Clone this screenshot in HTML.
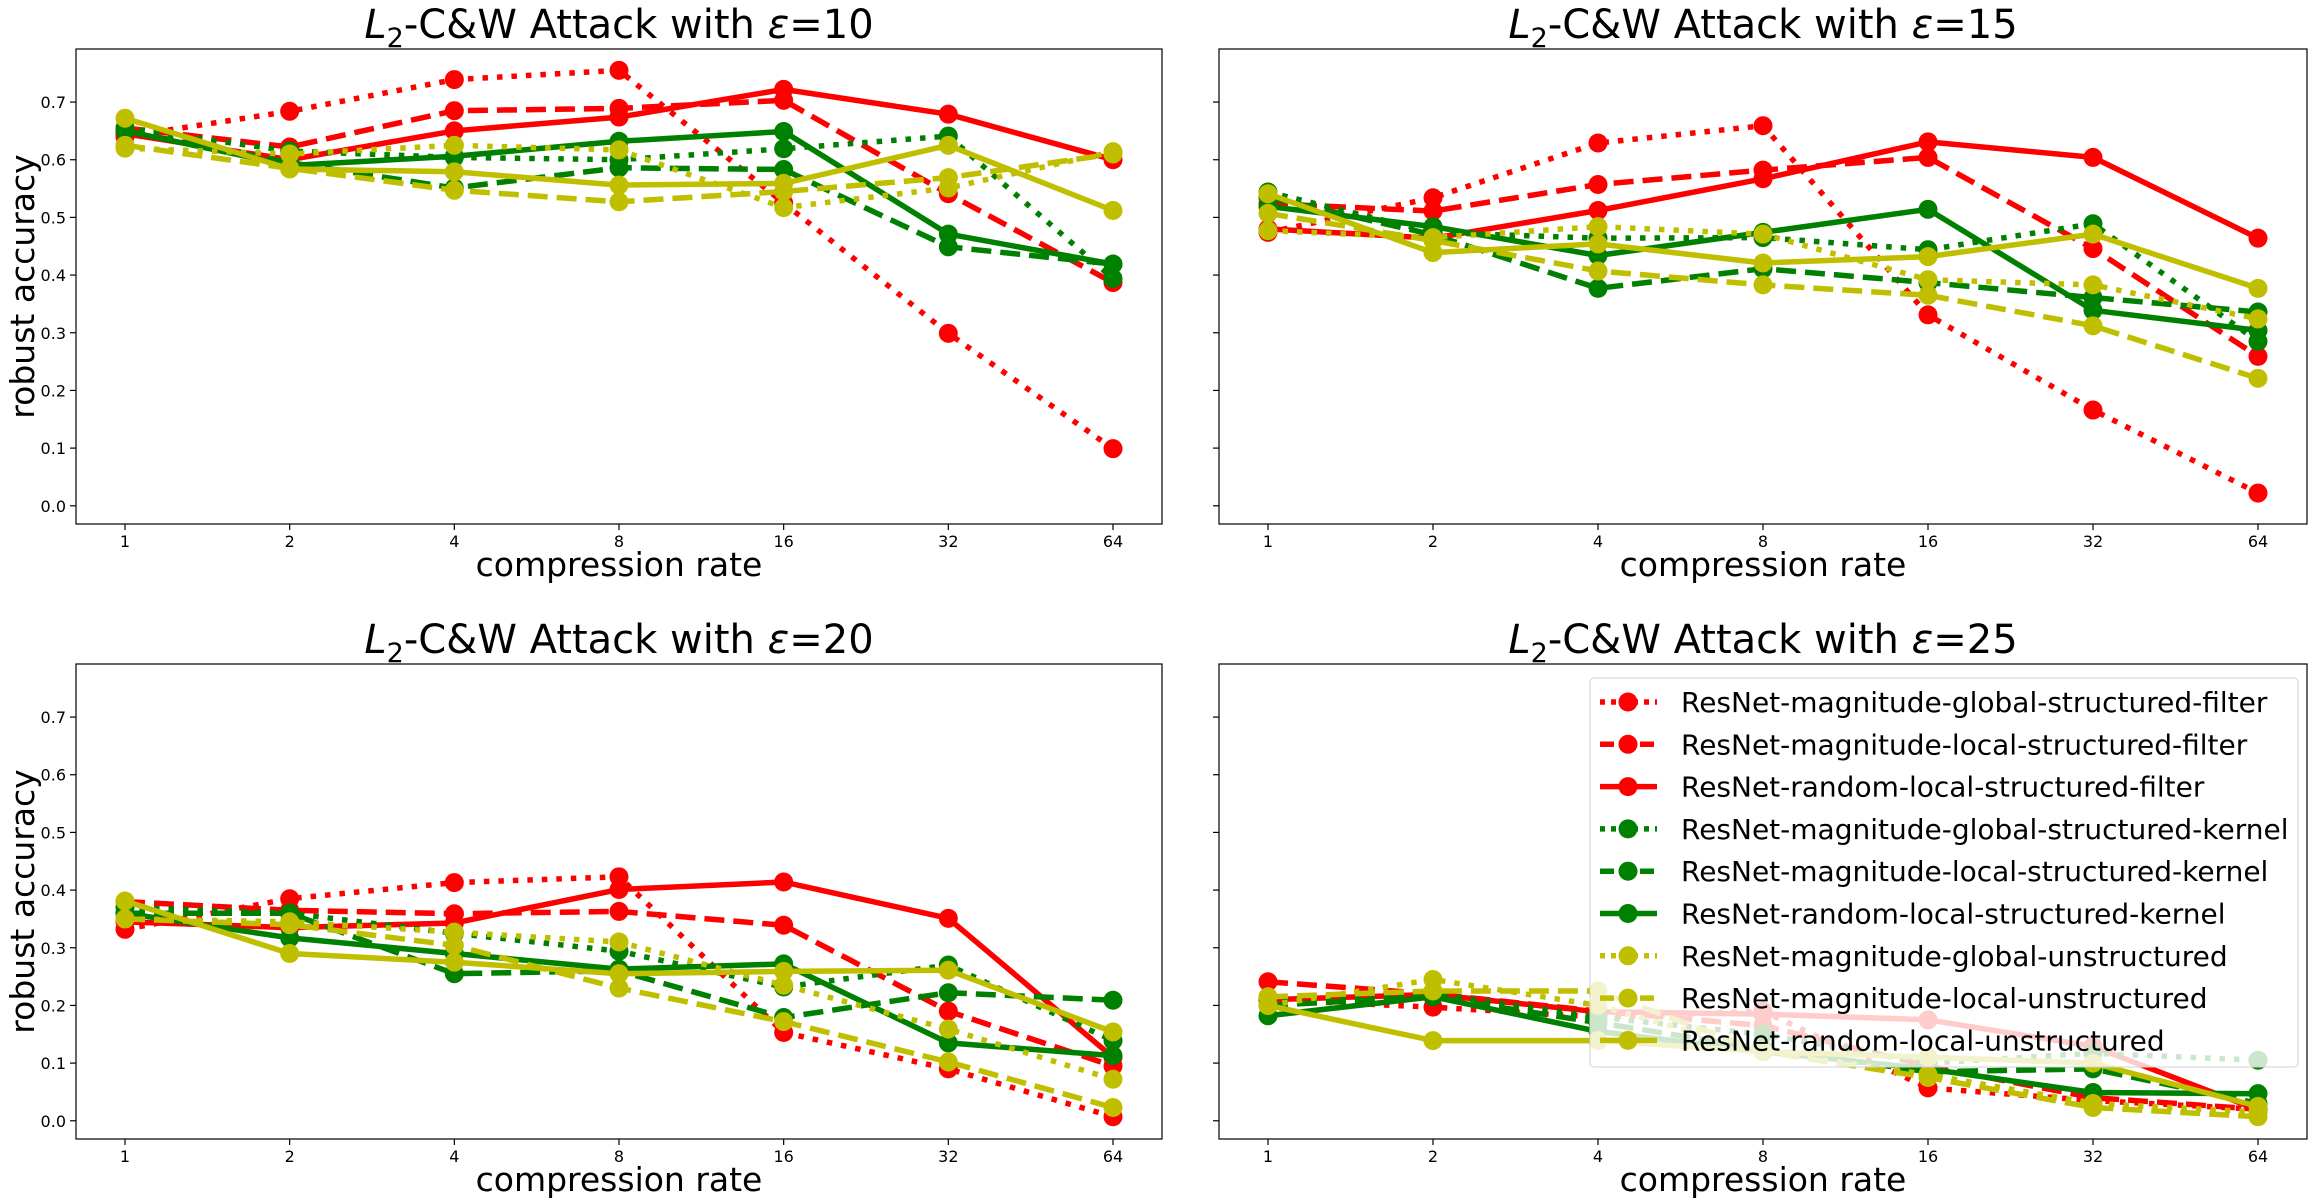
<!DOCTYPE html>
<html><head><meta charset="utf-8">
<style>
html,body{margin:0;padding:0;background:#fff;}
svg{display:block;font-family:"DejaVu Sans","Liberation Sans",sans-serif;}
</style></head>
<body>
<svg id="fig" width="2313" height="1200" viewBox="0 0 2313 1200" xmlns="http://www.w3.org/2000/svg"></svg>
<script>
const categories = ["1","2","4","8","16","32","64"];
const yTicks = [0.0,0.1,0.2,0.3,0.4,0.5,0.6,0.7];
const seriesNames = ["ResNet-magnitude-global-structured-filter","ResNet-magnitude-local-structured-filter","ResNet-random-local-structured-filter","ResNet-magnitude-global-structured-kernel","ResNet-magnitude-local-structured-kernel","ResNet-random-local-structured-kernel","ResNet-magnitude-global-unstructured","ResNet-magnitude-local-unstructured","ResNet-random-local-unstructured"];
const epsValues = [10,15,20,25];
const eps10 = [
 [0.64,0.684,0.739,0.755,0.525,0.299,0.099],
 [0.655,0.622,0.685,0.689,0.703,0.541,0.387],
 [0.645,0.60,0.65,0.674,0.722,0.679,0.60],
 [0.655,0.615,0.604,0.60,0.619,0.641,0.394],
 [0.65,0.595,0.551,0.586,0.583,0.449,0.419],
 [0.65,0.59,0.606,0.632,0.649,0.471,0.419],
 [0.62,0.61,0.625,0.617,0.517,0.551,0.614],
 [0.625,0.585,0.547,0.527,0.545,0.569,0.61],
 [0.672,0.584,0.579,0.556,0.559,0.625,0.512]];
const eps15 = [
 [0.474,0.534,0.629,0.659,0.331,0.166,0.022],
 [0.524,0.511,0.557,0.582,0.604,0.446,0.259],
 [0.48,0.464,0.512,0.567,0.631,0.604,0.464],
 [0.544,0.474,0.464,0.465,0.444,0.489,0.285],
 [0.535,0.47,0.377,0.411,0.387,0.361,0.336],
 [0.519,0.484,0.434,0.474,0.514,0.339,0.304],
 [0.477,0.465,0.484,0.471,0.392,0.383,0.324],
 [0.507,0.46,0.407,0.383,0.365,0.312,0.221],
 [0.541,0.439,0.454,0.421,0.432,0.471,0.377]];
const eps20 = [
 [0.332,0.385,0.413,0.423,0.153,0.09,0.007],
 [0.38,0.365,0.359,0.363,0.339,0.19,0.095],
 [0.345,0.335,0.343,0.401,0.414,0.351,0.11],
 [0.37,0.36,0.325,0.294,0.232,0.27,0.139],
 [0.36,0.36,0.255,0.26,0.179,0.222,0.209],
 [0.36,0.317,0.29,0.263,0.272,0.135,0.113],
 [0.35,0.345,0.327,0.31,0.235,0.159,0.072],
 [0.35,0.34,0.304,0.23,0.172,0.102,0.023],
 [0.381,0.29,0.275,0.255,0.259,0.261,0.154]];
const eps25 = [
 [0.21,0.197,0.18,0.19,0.057,0.035,0.02],
 [0.241,0.22,0.19,0.165,0.095,0.04,0.02],
 [0.21,0.219,0.189,0.185,0.175,0.129,0.019],
 [0.21,0.22,0.18,0.15,0.10,0.117,0.105],
 [0.20,0.215,0.17,0.125,0.085,0.09,0.03],
 [0.182,0.215,0.155,0.12,0.09,0.049,0.047],
 [0.20,0.245,0.20,0.12,0.08,0.03,0.015],
 [0.215,0.225,0.225,0.12,0.075,0.023,0.007],
 [0.20,0.139,0.139,0.12,0.11,0.10,0.025]];
const panelData = [eps10,eps15,eps20,eps25];

const NS="http://www.w3.org/2000/svg";
const svg=document.getElementById('fig');
const colors=["#ff0000","#ff0000","#ff0000","#008000","#008000","#008000","#bfbf00","#bfbf00","#bfbf00"];
const dashes=["5.5 9","20 9","none","5.5 9","20 9","none","5.5 9","20 9","none"];
const LW=5.5, MR=9.5;
const yMin=-0.0316, yMax=0.792;
const panels=[{l:76,r:1162,t:49,b:524,yl:true,tb:38},{l:1219,r:2307,t:49,b:524,yl:false,tb:38},
 {l:76,r:1162,t:664,b:1139,yl:true,tb:653},{l:1219,r:2307,t:664,b:1139,yl:false,tb:653}];
function el(tag,attrs,parent){const e=document.createElementNS(NS,tag);for(const k in attrs)e.setAttribute(k,attrs[k]);(parent||svg).appendChild(e);return e;}

panels.forEach((p,pi)=>{
  const g=el('g',{});
  
  
  const xs=i=>p.l+49+i*(p.r-p.l-98)/(categories.length-1);
  const ys=v=>p.b-(v-yMin)/(yMax-yMin)*(p.b-p.t);
  const t=el('text',{x:(p.l+p.r)/2,y:p.tb,'text-anchor':'middle','font-size':40,fill:'#000'},g);
  
  
  t.innerHTML='<tspan font-style="italic">L</tspan><tspan font-size="27" dy="9">2</tspan><tspan dy="-9">-C&amp;W Attack with </tspan><tspan font-style="italic">ε</tspan><tspan>=</tspan><tspan>'+epsValues[pi]+'</tspan>';
  categories.forEach((c,i)=>{
    el('line',{x1:xs(i),x2:xs(i),y1:p.b,y2:p.b+6,stroke:'#000','stroke-width':1.2},g);
    const tx=el('text',{x:xs(i),y:p.b+23,'text-anchor':'middle','font-size':16,fill:'#000'},g);
    
    
    tx.textContent=c;
  });
  yTicks.forEach(v=>{
    el('line',{x1:p.l-6,x2:p.l,y1:ys(v),y2:ys(v),stroke:'#000','stroke-width':1.2},g);
    if(p.yl){
      const ty=el('text',{x:p.l-10,y:ys(v)+6,'text-anchor':'end','font-size':16,fill:'#000'},g);
      
      
      ty.textContent=v.toFixed(1);
    }
  });
  const xl=el('text',{x:(p.l+p.r)/2,y:p.b+52,'text-anchor':'middle','font-size':33,fill:'#000'},g);
  
  
  xl.textContent='compression rate';
  if(p.yl){
    const cy=(p.t+p.b)/2;
    const yl=el('text',{x:0,y:0,transform:'translate(34,'+cy+') rotate(-90)','text-anchor':'middle','font-size':33,fill:'#000'},g);
    
    
    yl.textContent='robust accuracy';
  }
  const clipId='clip'+pi;
  const cp=el('clipPath',{id:clipId},g);
  el('rect',{x:p.l,y:p.t,width:p.r-p.l,height:p.b-p.t},cp);
  const pg=el('g',{'clip-path':'url(#'+clipId+')'},g);
  panelData[pi].forEach((vals,si)=>{
    const sg=el('g',{},pg);
    
    
    const pts=vals.map((v,i)=>xs(i).toFixed(1)+','+ys(v).toFixed(1)).join(' ');
    const pl=el('polyline',{points:pts,fill:'none',stroke:colors[si],'stroke-width':LW,'stroke-dasharray':dashes[si],'stroke-linejoin':'round'},sg);
    
    
    vals.forEach((v,i)=>{
      const c=el('circle',{cx:xs(i),cy:ys(v),r:MR,fill:colors[si]},sg);
      
      
    });
  });
  const fr=el('rect',{x:p.l,y:p.t,width:p.r-p.l,height:p.b-p.t,fill:'none',stroke:'#000','stroke-width':1.2},g);
  
  

  if(pi===3){
    const lg=el('g',{},g);
    
    
    el('rect',{x:1590,y:678,width:708,height:389,rx:4,fill:'rgba(255,255,255,0.8)',stroke:'#d0d0d0','stroke-width':1},lg);
    const legDash=["5 6","14 6","none","5 6","14 6","none","5 6","14 6","none"];
    seriesNames.forEach((n,si)=>{
      const yy=702+si*42.3;
      const le=el('g',{},lg);
      
      
      el('line',{x1:1600,x2:1657,y1:yy,y2:yy,stroke:colors[si],'stroke-width':LW,'stroke-dasharray':legDash[si]},le);
      el('circle',{cx:1628,cy:yy,r:MR,fill:colors[si]},le);
      const tt=el('text',{x:1681,y:yy+10,'font-size':28,fill:'#000'},le);
      tt.textContent=n;
    });
  }
});
</script>
</body></html>
